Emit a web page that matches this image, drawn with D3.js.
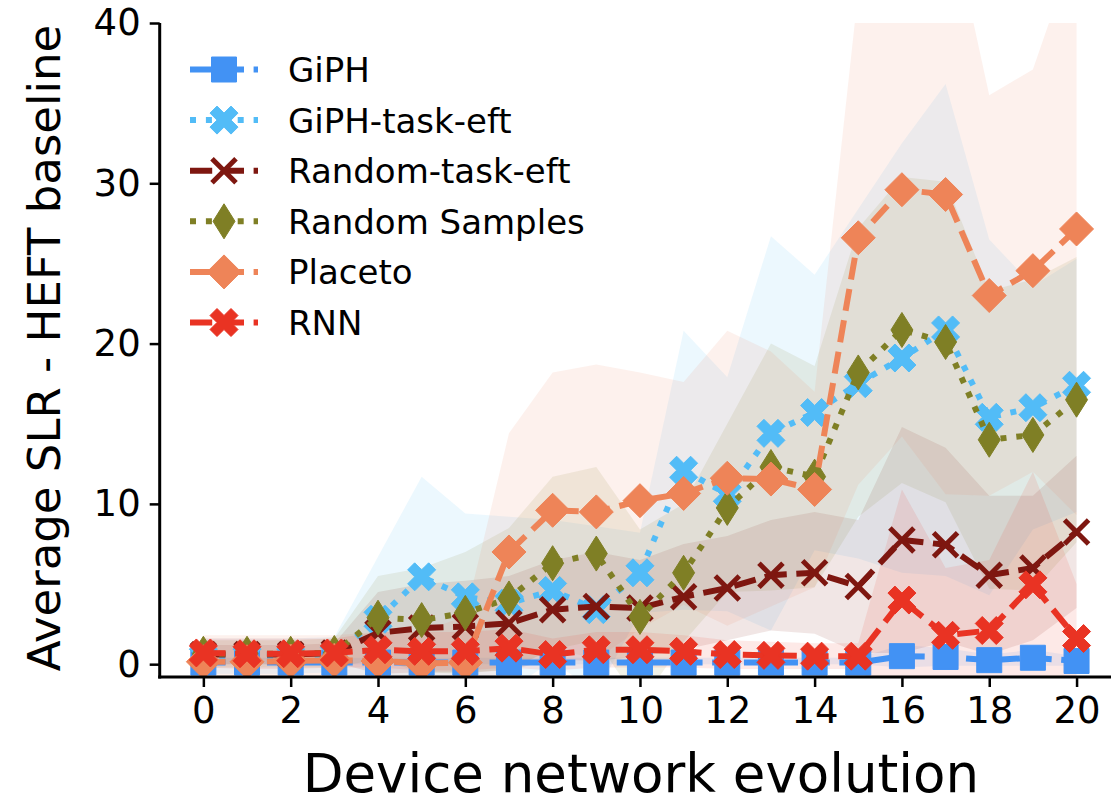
<!DOCTYPE html>
<html>
<head>
<meta charset="utf-8">
<script src="https://cdn.jsdelivr.net/npm/d3@7"></script>
<style>
  body { margin: 0; background: #fff; }
  text { font-family: "DejaVu Sans", sans-serif; fill: #000; }
</style>
</head>
<body>
<div id="chart"></div>
<script>
// x positions (device network evolution step)
var steps = d3.range(0, 21);
var xTicks = [0, 2, 4, 6, 8, 10, 12, 14, 16, 18, 20];
var yTicks = [0, 10, 20, 30, 40];

// series means
var giph       = [0.1, 0.1, 0.1, 0.1, 0.1, 0.1, 0.1, 0.1, 0.1, 0.1, 0.1, 0.1, 0.1, 0.1, 0.1, 0.1, 0.5, 0.45, 0.25, 0.4, 0.2];
var giphTask   = [0.5, 0.5, 0.5, 0.6, 2.8, 5.45, 4.2, 3.8, 4.6, 3.4, 5.7, 12.1, 10.6, 14.4, 15.7, 17.5, 19.1, 20.85, 15.4, 16.0, 17.4];
var randomTask = [0.6, 0.6, 0.6, 0.7, 1.95, 2.25, 2.35, 2.55, 3.4, 3.6, 3.5, 4.2, 4.75, 5.55, 5.7, 4.85, 7.75, 7.45, 5.55, 6.0, 8.25];
var randomSamp = [0.65, 0.65, 0.65, 0.7, 2.9, 2.75, 3.2, 4.1, 6.3, 6.9, 2.95, 5.7, 9.75, 12.3, 11.7, 18.2, 20.85, 20.1, 14.0, 14.3, 16.5];
var placeto    = [0.15, 0.15, 0.2, 0.25, 0.2, 0.05, 0.1, 7.0, 9.6, 9.5, 10.2, 10.65, 11.6, 11.55, 10.9, 26.6, 29.6, 29.3, 23.0, 24.55, 27.15];
var rnn        = [0.7, 0.65, 0.65, 0.7, 0.9, 0.8, 0.8, 1.0, 0.6, 0.9, 0.9, 0.8, 0.6, 0.55, 0.5, 0.5, 4.0, 1.8, 2.1, 4.95, 1.6];

// shaded bands (low / high)
var giphLo       = [0, 0, 0, 0, 0, 0, 0, 0, 0, 0, 0, 0, 0, 0, 0, 0, -0.2, -0.1, -0.1, -0.1, -0.1];
var giphHi       = [0.4, 0.4, 0.4, 0.4, 0.4, 0.4, 0.4, 0.4, 0.4, 0.4, 0.4, 0.4, 0.4, 0.4, 0.4, 0.4, 1.2, 1.0, 0.6, 0.9, 0.5];
var giphTaskLo   = [-0.6, -0.6, -0.6, -0.5, -1.1, -0.8, -1.0, -1.6, 0.2, -1.8, 3.2, 3.4, 3.3, 2.1, 7.1, 6.6, 5.7, 5.5, 4.3, 8.4, 9.5];
var giphTaskHi   = [1.6, 1.6, 1.6, 1.7, 6.7, 11.7, 9.4, 9.2, 9.0, 8.6, 8.2, 20.8, 17.9, 26.7, 24.3, 28.4, 32.5, 36.2, 26.5, 23.6, 25.3];
var randomTaskLo = [0, 0, 0, 0.1, -0.6, -0.5, -0.5, -0.4, 0.3, 0.2, 0.5, 0.9, 1.5, 2.1, 1.9, 0.7, 0.7, 1.4, 0.6, 1.5, 3.5];
var randomTaskHi = [1.2, 1.2, 1.2, 1.3, 4.5, 5.0, 5.2, 5.5, 6.5, 7.0, 6.5, 7.5, 8.0, 9.0, 9.5, 9.0, 14.8, 13.5, 10.5, 10.5, 13.0];
var randomSampLo = [-0.2, -0.2, -0.2, -0.2, 0.3, -0.5, -0.6, -0.3, 0.9, 1.5, -2.5, 1.4, 4.5, 4.6, 4.8, 9.2, 11.3, 10.1, 4.7, 4.6, 7.6];
var randomSampHi = [1.5, 1.5, 1.5, 1.6, 5.5, 6.0, 7.0, 8.5, 11.7, 12.3, 8.4, 10.0, 15.0, 20.0, 18.6, 27.2, 30.4, 30.1, 23.3, 24.0, 25.4];
var placetoLo    = [-1.5, -1.5, -1.4, -1.3, -1.6, -1.9, -2.8, -0.4, 1.0, 0.3, 2.2, 3.7, 2.4, 3.6, 4.8, 11.2, 14.2, 10.6, 10.5, 12.0, 9.3];
var placetoHi    = [1.8, 1.8, 1.8, 1.8, 2.0, 2.0, 3.0, 14.4, 18.2, 18.7, 18.2, 17.6, 20.8, 19.5, 17.0, 42.0, 45.0, 48.0, 35.5, 37.1, 45.0];
var rnnLo        = [-0.2, -0.3, -0.3, -0.2, -0.2, -0.4, -0.4, -0.2, -0.4, -0.2, -0.2, -0.2, -0.3, -0.3, -0.3, -0.3, -2.9, -2.4, -2.3, -2.1, -1.8];
var rnnHi        = [1.6, 1.6, 1.6, 1.6, 2.0, 2.0, 2.0, 2.2, 1.6, 2.0, 2.0, 1.8, 1.5, 1.4, 1.3, 1.3, 10.9, 6.0, 6.5, 12.0, 5.0];

var names   = ["GiPH", "GiPH-task-eft", "Random-task-eft", "Random Samples", "Placeto", "RNN"];
var colors  = ["#4292f4", "#52bcf7", "#7e1710", "#7f7f25", "#ee8458", "#e93323"];
var markers = ["square", "bigX", "thinX", "thinDiamond", "diamond", "bigX"];
var styles  = ["dash", "dot", "dash", "dot", "dash", "dash"];

var means = [giph, giphTask, randomTask, randomSamp, placeto, rnn];
var lows  = [giphLo, giphTaskLo, randomTaskLo, randomSampLo, placetoLo, rnnLo];
var highs = [giphHi, giphTaskHi, randomTaskHi, randomSampHi, placetoHi, rnnHi];

var w = 1111, h = 803;
var lw = 6; // line width

var svg = d3.select("#chart").append("svg")
    .attr("width", w)
    .attr("height", h);

var plotLeft = 159.7, plotTop = 23, plotBottom = 677;

var x = d3.scaleLinear().domain([-1, 21]).range([plotLeft, plotLeft + 22 * 43.66]);
var y = d3.scaleLinear().domain([-0.8, 40]).range([plotBottom, plotTop]);

svg.append("clipPath").attr("id", "plotclip")
    .append("rect")
    .attr("x", plotLeft).attr("y", plotTop)
    .attr("width", w - plotLeft).attr("height", plotBottom - plotTop);

var plot = svg.append("g").attr("clip-path", "url(#plotclip)");

// marker shapes
function markerPath(kind) {
    if (kind == "square") return "M-12.5,-12.5h25v25h-25z";
    if (kind == "bigX") return "M-7,-14L0,-7L7,-14L14,-7L7,0L14,7L7,14L0,7L-7,14L-14,7L-7,0L-14,-7Z";
    if (kind == "thinX") return "M-12,-12L12,12M-12,12L12,-12";
    if (kind == "diamond") return "M0,-17L17,0L0,17L-17,0Z";
    if (kind == "thinDiamond") return "M0,-17.5L11,0L0,17.5L-11,0Z";
}

function dashFor(style) {
    return style == "dot" ? (lw * 1) + "," + (lw * 1.65) : (lw * 3.7) + "," + (lw * 1.6);
}

function drawMarker(g, kind, color, cx, cy) {
    var m = g.append("path")
        .attr("d", markerPath(kind))
        .attr("transform", "translate(" + cx + "," + cy + ")");
    if (kind == "thinX") {
        m.attr("fill", "none").attr("stroke", color).attr("stroke-width", 5);
    } else {
        m.attr("fill", color).attr("stroke", color).attr("stroke-width", 1);
    }
}

// bands first
var area = d3.area()
    .x(function (d, i) { return x(steps[i]); })
    .y0(function (d) { return y(d[0]); })
    .y1(function (d) { return y(d[1]); });

means.forEach(function (m, s) {
    var band = lows[s].map(function (lo, i) { return [lo, highs[s][i]]; });
    plot.append("path")
        .datum(band)
        .attr("d", area)
        .attr("fill", colors[s])
        .attr("fill-opacity", 0.11)
        .attr("stroke", "none");
});

// lines + markers
var line = d3.line()
    .x(function (d, i) { return x(steps[i]); })
    .y(function (d) { return y(d); });

means.forEach(function (m, s) {
    var g = plot.append("g");
    g.append("path")
        .datum(m)
        .attr("d", line)
        .attr("fill", "none")
        .attr("stroke", colors[s])
        .attr("stroke-width", lw)
        .attr("stroke-dasharray", dashFor(styles[s]));
    m.forEach(function (v, i) {
        drawMarker(g, markers[s], colors[s], x(steps[i]), y(v));
    });
});

// axes
var xAxis = d3.axisBottom(x).tickValues(xTicks).tickSize(10).tickPadding(10).tickFormat(d3.format("d"));
var yAxis = d3.axisLeft(y).tickValues(yTicks).tickSize(10).tickPadding(9).tickFormat(d3.format("d"));

var gx = svg.append("g")
    .attr("transform", "translate(0," + plotBottom + ")")
    .call(xAxis);
var gy = svg.append("g")
    .attr("transform", "translate(" + plotLeft + ",0)")
    .call(yAxis);

[gx, gy].forEach(function (g) {
    g.select(".domain").remove();
    g.selectAll(".tick line").attr("stroke", "#000").attr("stroke-width", 2.5);
    g.selectAll(".tick text").attr("font-size", 37).attr("font-family", "DejaVu Sans").attr("fill", "#000");
});

// spines
svg.append("line").attr("x1", plotLeft).attr("x2", plotLeft).attr("y1", plotTop).attr("y2", plotBottom + 1.5)
    .attr("stroke", "#000").attr("stroke-width", 3);
svg.append("line").attr("x1", plotLeft - 1.5).attr("x2", w).attr("y1", plotBottom).attr("y2", plotBottom)
    .attr("stroke", "#000").attr("stroke-width", 3);

// axis labels
svg.append("text")
    .attr("x", (plotLeft + 1118) / 2 + 2)
    .attr("y", 792)
    .attr("text-anchor", "middle")
    .attr("font-size", 53)
    .text("Device network evolution");

svg.append("text")
    .attr("transform", "translate(60," + 348 + ") rotate(-90)")
    .attr("text-anchor", "middle")
    .attr("font-size", 45)
    .text("Average SLR - HEFT baseline");

// legend
var legend = svg.append("g");
names.forEach(function (name, s) {
    var cy = 69.5 + s * 50.6;
    var row = legend.append("g");
    row.append("line")
        .attr("x1", 190).attr("x2", 258).attr("y1", cy).attr("y2", cy)
        .attr("stroke", colors[s])
        .attr("stroke-width", lw)
        .attr("stroke-dasharray", dashFor(styles[s]));
    drawMarker(row, markers[s], colors[s], 224, cy);
    row.append("text")
        .attr("x", 288)
        .attr("y", cy + 12.5)
        .attr("font-size", 34)
        .text(name);
});
</script>
</body>
</html>
